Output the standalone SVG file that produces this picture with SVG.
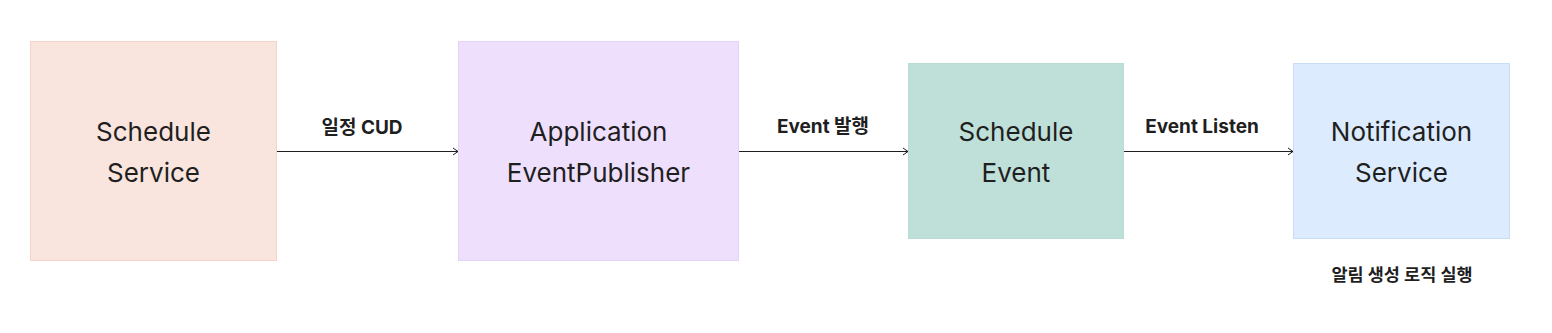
<svg xmlns="http://www.w3.org/2000/svg" width="1552" height="333" viewBox="0 0 1552 333">
<style>
.node-text{font-family:Inter,"Noto Sans CJK KR",sans-serif;font-size:26px;fill:#1f1f1f;text-anchor:middle}
.label{font-family:Inter,"Noto Sans CJK KR",sans-serif;font-size:19px;font-weight:700;fill:#1f1f1f;text-anchor:middle}
.note{font-size:17.5px}
.conn{stroke:#1f1f1f;stroke-width:1;fill:none}
</style>
<defs>
<marker id="arr" markerWidth="10" markerHeight="10" refX="7" refY="5" orient="auto" markerUnits="userSpaceOnUse">
<path d="M2,1.5 L7,5 L2,8.5" fill="none" stroke="#1f1f1f" stroke-width="1"/>
</marker>
</defs>
<rect width="1552" height="333" fill="#ffffff"/>
<g id="connectors">
<line class="conn" x1="277" y1="151.5" x2="458" y2="151.5" marker-end="url(#arr)"/>
<line class="conn" x1="739" y1="151.5" x2="908" y2="151.5" marker-end="url(#arr)"/>
<line class="conn" x1="1124" y1="151.5" x2="1293" y2="151.5" marker-end="url(#arr)"/>
<text class="label" x="362" y="134">일정 CUD</text>
<text class="label" x="823" y="133">Event 발행</text>
<text class="label" x="1202" y="133">Event Listen</text>
</g>
<g id="schedule-service">
<rect x="30.5" y="41.5" width="246" height="219" fill="#F9E4DE" stroke="#F4D3C9"/>
<text class="node-text" x="153.5" y="141">Schedule</text>
<text class="node-text" x="153.5" y="182">Service</text>
</g>
<g id="application-event-publisher">
<rect x="458.5" y="41.5" width="280" height="219" fill="#EEE0FD" stroke="#E2D3F7"/>
<text class="node-text" x="598.5" y="141">Application</text>
<text class="node-text" x="598.5" y="182">EventPublisher</text>
</g>
<g id="schedule-event">
<rect x="908.5" y="63.5" width="215" height="175" fill="#BFE0D9" stroke="#B8DBD3"/>
<text class="node-text" x="1016" y="141">Schedule</text>
<text class="node-text" x="1016" y="182">Event</text>
</g>
<g id="notification-service">
<rect x="1293.5" y="63.5" width="216" height="175" fill="#DCEBFE" stroke="#C9DEF6"/>
<text class="node-text" x="1401.5" y="141">Notification</text>
<text class="node-text" x="1401.5" y="182">Service</text>
<text class="label note" x="1402" y="281">알림 생성 로직 실행</text>
</g>
</svg>
